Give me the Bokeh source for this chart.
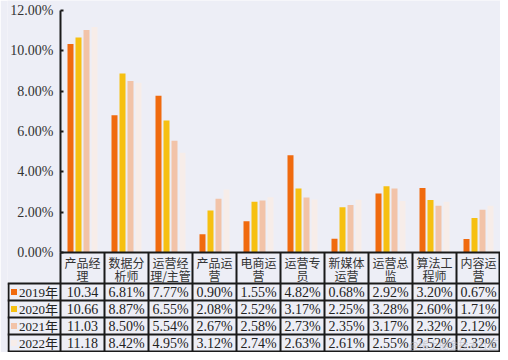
from bokeh.plotting import figure
from bokeh.models import LinearAxis, FixedTicker, PrintfTickFormatter, Range1d, ColumnDataSource
from bokeh.core.properties import value
from bokeh.transform import dodge
from bokeh.embed import file_html
from bokeh.resources import INLINE

categories = ["产品经理", "数据分析师", "运营经理/主管", "产品运营", "电商运营",
              "运营专员", "新媒体运营", "运营总监", "算法工程师", "内容运营"]
years = ["2019年", "2020年", "2021年", "2022年"]
v2019 = [10.34, 6.81, 7.77, 0.90, 1.55, 4.82, 0.68, 2.92, 3.20, 0.67]
v2020 = [10.66, 8.87, 6.55, 2.08, 2.52, 3.17, 2.25, 3.28, 2.60, 1.71]
v2021 = [11.03, 8.50, 5.54, 2.67, 2.58, 2.73, 2.35, 3.17, 2.32, 2.12]
v2022 = [11.18, 8.42, 4.95, 3.12, 2.74, 2.63, 2.61, 2.55, 2.52, 2.32]
y_ticks = [0, 2, 4, 6, 8, 10, 12]
colors = ["#f06a0e", "#f6c011", "#f2c3a8", "#f7ede9"]
series = [v2019, v2020, v2021, v2022]

BG = "#edeef6"
LINE = "#1a1a1a"
FONT_NUM = "Liberation Serif, Noto Sans CJK SC"
FONT_CJK = "Noto Sans CJK SC"

# layout helpers (pixel geometry of the picture)
W, H = 500, 352
LEFT = 7                  # left edge of the table
PX = 44.0                 # px per category
PY = 242.0 / 12.0         # px per percent
ZERO_PX = 252.0
def ypx(px):
    return (ZERO_PX - px) / PY

x0 = -0.5 - (60.0 - LEFT) / PX
def xpx(px):
    return x0 + (px - LEFT) / PX

p = figure(width=W, height=H, output_backend="svg", toolbar_location=None,
           x_axis_type=None, y_axis_type=None,
           x_range=Range1d(x0, 9.5), y_range=Range1d(ypx(H), ypx(0)),
           min_border=0, min_border_left=LEFT,
           background_fill_color=BG, border_fill_color=BG, outline_line_color=None)
p.xgrid.visible = False
p.ygrid.visible = False

n = len(categories)
src = ColumnDataSource(dict(x=list(range(n)), v0=v2019, v1=v2020, v2=v2021, v3=v2022))
bw = 6.0 / PX
step = 8.0 / PX
for k in range(4):
    off = (k - 1.5) * step
    p.vbar(x=dodge("x", off), top=f"v{k}", bottom=0, width=bw, source=src,
           fill_color=colors[k], line_color=None)

yaxis = LinearAxis(fixed_location=-0.5, ticker=FixedTicker(ticks=y_ticks),
                   formatter=PrintfTickFormatter(format="%.2f%%"), bounds=(0, 12),
                   axis_line_color=LINE, axis_line_width=2,
                   major_tick_in=3, major_tick_out=0, major_tick_line_color=LINE,
                   major_tick_line_width=2, minor_tick_line_color=None,
                   major_label_text_font=FONT_NUM, major_label_text_font_size="14px",
                   major_label_text_color="#333333", major_label_standoff=7)
p.add_layout(yaxis, "left")

# table grid
p.segment(x0=[-0.5], y0=[0], x1=[9.5], y1=[0], line_color=LINE, line_width=2)
row_px = [283, 300, 317, 334, 351]
p.segment(x0=[xpx(LEFT)] * 5, y0=[ypx(r) for r in row_px], x1=[9.5 - 0.5 / PX] * 5,
          y1=[ypx(r) for r in row_px], line_color=LINE, line_width=2)
vx = [-0.5 + i for i in range(n)] + [9.5 - 1.0 / PX]
p.segment(x0=vx, y0=[0] * len(vx), x1=vx, y1=[ypx(351)] * len(vx),
          line_color=LINE, line_width=2)
p.segment(x0=[xpx(LEFT + 1)], y0=[ypx(283)], x1=[xpx(LEFT + 1)], y1=[ypx(351)],
          line_color=LINE, line_width=2)

# header labels (two lines)
line1 = [c[:3] for c in categories]
line2 = [c[3:] for c in categories]
p.text(x=list(range(n)), y=[ypx(262)] * n, text=line1, text_font=value(FONT_CJK),
       text_font_size="12px", text_color="#333333", text_align="center",
       text_baseline="middle")
p.text(x=list(range(n)), y=[ypx(275)] * n, text=line2, text_font=value(FONT_CJK),
       text_font_size="12px", text_color="#333333", text_align="center",
       text_baseline="middle")

# data rows
row_mid = [291.5, 308.5, 325.5, 342.5]
for k, vals in enumerate(series):
    labels = []
    for i, v in enumerate(vals):
        s = f"{v:.2f}%"
        if len(s) > 5:
            s = s[:5]
        labels.append(s)
    p.text(x=list(range(n)), y=[ypx(row_mid[k])] * n, text=labels,
           text_font=value(FONT_NUM), text_font_size="14px", text_color="#222222",
           text_align="center", text_baseline="middle")
    p.scatter(x=[xpx(13.5)], y=[ypx(row_mid[k])], marker="square", size=6,
              fill_color=colors[k], line_color=None)
    p.text(x=[xpx(18.5)], y=[ypx(row_mid[k])], text=[years[k]],
           text_font=value(FONT_NUM), text_font_size="13px", text_color="#222222",
           text_align="left", text_baseline="middle")

# watermark
p.text(x=[xpx(498)], y=[ypx(344)], text=["@稀土掘金技术社区"], text_font=value(FONT_CJK),
       text_font_size="10px", text_color="#b4b4c0", text_alpha=0.6,
       text_align="right", text_baseline="middle")

open("out.html", "w").write(file_html(p, INLINE))
